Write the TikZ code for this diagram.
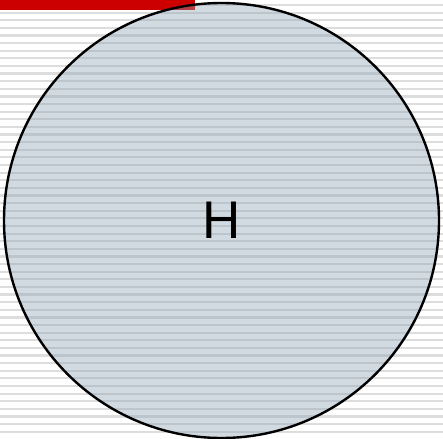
\documentclass[tikz,border=0pt]{standalone}
\usepackage{fontspec}
\setmainfont{Liberation Sans}
\definecolor{barred}{RGB}{204,0,0}
\definecolor{ruleg}{RGB}{221,221,221}
\definecolor{setfill}{RGB}{140,160,180}
\begin{document}
\begin{tikzpicture}[x=1pt,y=-1pt,
        bgline/.style={draw=ruleg,line width=2.2pt},
        setnode/.style={circle,draw=black,line width=2.4pt,fill=setfill,fill opacity=0.4,text opacity=1,
            minimum size=435pt,inner sep=0pt,font=\fontsize{53}{60}\selectfont}]
            \useasboundingbox (0,0) rectangle (443,438);
            \foreach \k in {0,...,56}
                \draw [bgline] (0,{5+7.62*\k}) -- (443,{5+7.62*\k});
            \fill [barred] (0,0) rectangle (195,10.5);
            \path (221.5,220.5) node [setnode] (H) {H};
        \end{tikzpicture}
\end{document}
